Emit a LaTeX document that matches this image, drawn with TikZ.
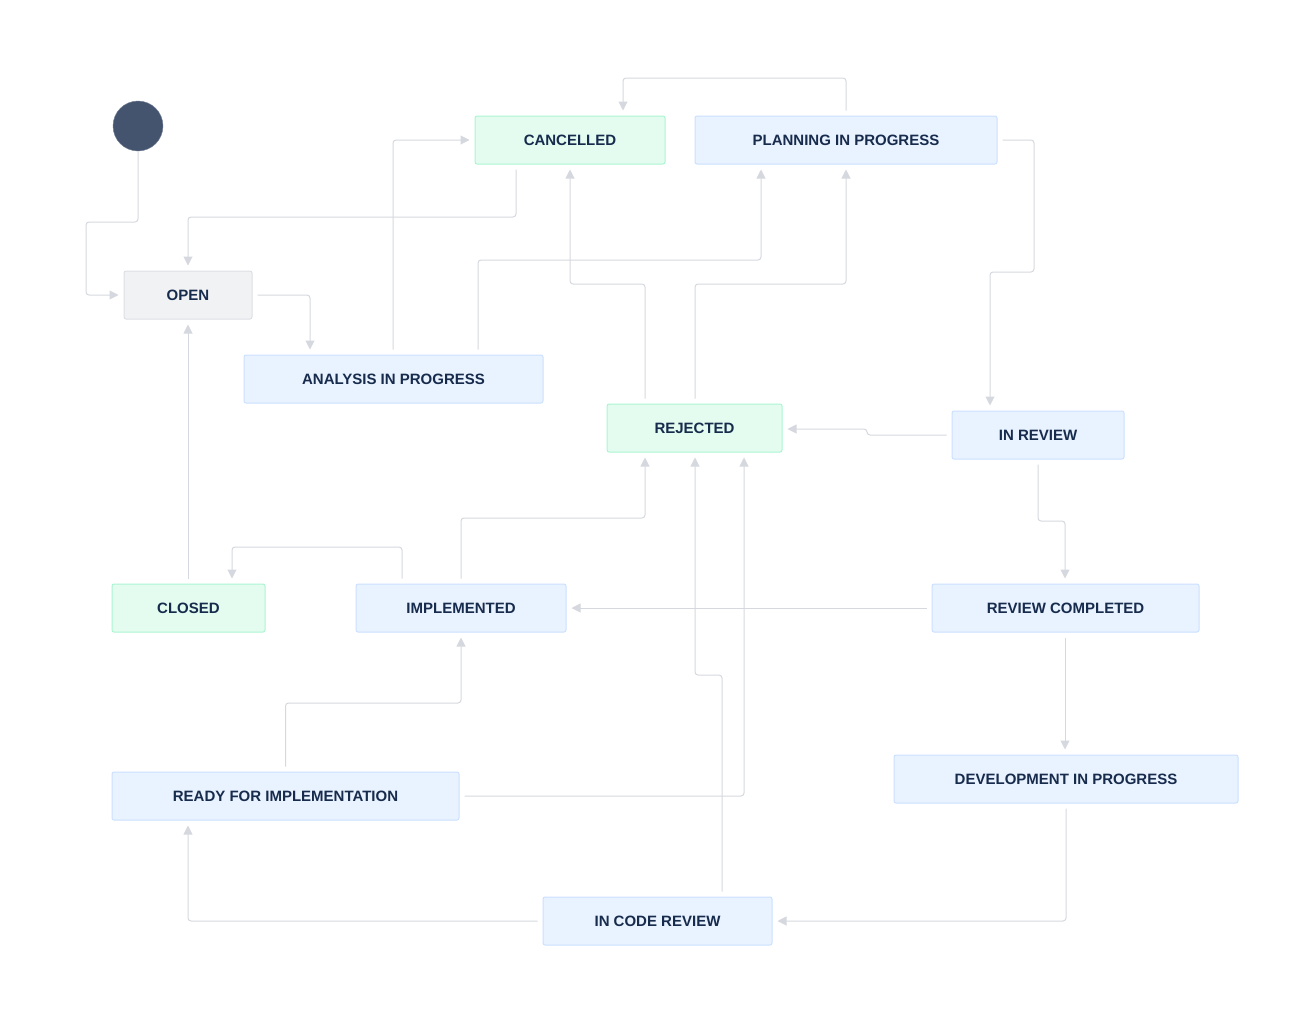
\documentclass[tikz,border=0pt]{standalone}
\usepackage{fontspec}
\setmainfont{Liberation Sans}
\usetikzlibrary{arrows.meta}
\definecolor{txt}{HTML}{172B4D}
\definecolor{bfill}{HTML}{E9F2FF}
\definecolor{bline}{HTML}{CCE0FF}
\definecolor{gfill}{HTML}{E3FCEF}
\definecolor{gline}{HTML}{ABF5D1}
\definecolor{ofill}{HTML}{F1F2F4}
\definecolor{oline}{HTML}{DCDFE4}
\definecolor{edge}{HTML}{D5D8DE}
\definecolor{startc}{HTML}{44546F}
\begin{document}
\begin{tikzpicture}[x=1pt,y=-1pt,
 st/.style={draw=bline,fill=bfill,rounded corners=2pt,line width=1pt,text=txt,font=\fontsize{15}{18}\selectfont\bfseries,inner sep=0pt,minimum height=48pt},
 gr/.style={st,draw=gline,fill=gfill},
 og/.style={st,draw=oline,fill=ofill},
 e/.style={draw=edge,line width=1pt,rounded corners=3pt,shorten >=5pt,shorten <=5pt,-{Triangle[length=9pt,width=9pt,fill=edge]}}]
\useasboundingbox (0,0) rectangle (1292,1017);
\node[circle,fill=startc,draw=txt!60,minimum size=50pt,inner sep=0pt] (s) at (138,126) {};
\node[gr,minimum width=190pt] (can) at (570,140) {CANCELLED};
\node[st,minimum width=302pt] (plan) at (846,140) {PLANNING IN PROGRESS};
\node[og,minimum width=128pt] (open) at (188,295) {OPEN};
\node[st,minimum width=299pt] (ana) at (393.5,379) {ANALYSIS IN PROGRESS};
\node[gr,minimum width=175pt] (rej) at (694.5,428) {REJECTED};
\node[st,minimum width=172pt] (rev) at (1038,435) {IN REVIEW};
\node[gr,minimum width=153pt] (clo) at (188.5,608) {CLOSED};
\node[st,minimum width=210pt] (imp) at (461,608) {IMPLEMENTED};
\node[st,minimum width=267pt] (rc) at (1065.5,608) {REVIEW COMPLETED};
\node[st,minimum width=344pt] (dev) at (1066,779) {DEVELOPMENT IN PROGRESS};
\node[st,minimum width=347pt] (rfi) at (285.5,796) {READY FOR IMPLEMENTATION};
\node[st,minimum width=229pt] (icr) at (657.5,921) {IN CODE REVIEW};
\draw[e,shorten <=0pt] (s.south) |- (86,222) |- (open.west);
\draw[e] (can.south -| 516,0) |- (188,217) -- (open.north);
\draw[e] (open.east) -| (ana.north -| 310,0);
\draw[e] (ana.north -| 393,0) |- (can.west);
\draw[e] (ana.north -| 478,0) |- (761,260) -- (plan.south -| 761,0);
\draw[e] (plan.north) |- (623,78) -- (can.north -| 623,0);
\draw[e] (plan.east) -| (1034,272) -| (rev.north -| 990,0);
\draw[e] (rej.north -| 645,0) |- (570,284) -- (can.south -| 570,0);
\draw[e] (rej.north -| 695,0) |- (846,284) -- (plan.south);
\draw[e] (rev.west) -| (867,429) -- (rej.east |- 0,429);
\draw[e] (rev.south) |- (1065,521) -- (rc.north -| 1065,0);
\draw[e] (clo.north -| 188,0) -- (open.south);
\draw[e] (imp.north -| 402,0) |- (232,547) -- (clo.north -| 232,0);
\draw[e] (imp.north) |- (645,518) -- (rej.south -| 645,0);
\draw[e] (rc.west) -- (imp.east);
\draw[e] (rc.south -| 1065,0) -- (dev.north -| 1065,0);
\draw[e] (rfi.north) |- (461,703) -- (imp.south);
\draw[e] (rfi.east) -| (rej.south -| 744,0);
\draw[e] (icr.north -| 722,0) |- (695,675) -- (rej.south -| 695,0);
\draw[e] (dev.south) |- (icr.east);
\draw[e] (icr.west) -| (rfi.south -| 188,0);
\end{tikzpicture}
\end{document}
